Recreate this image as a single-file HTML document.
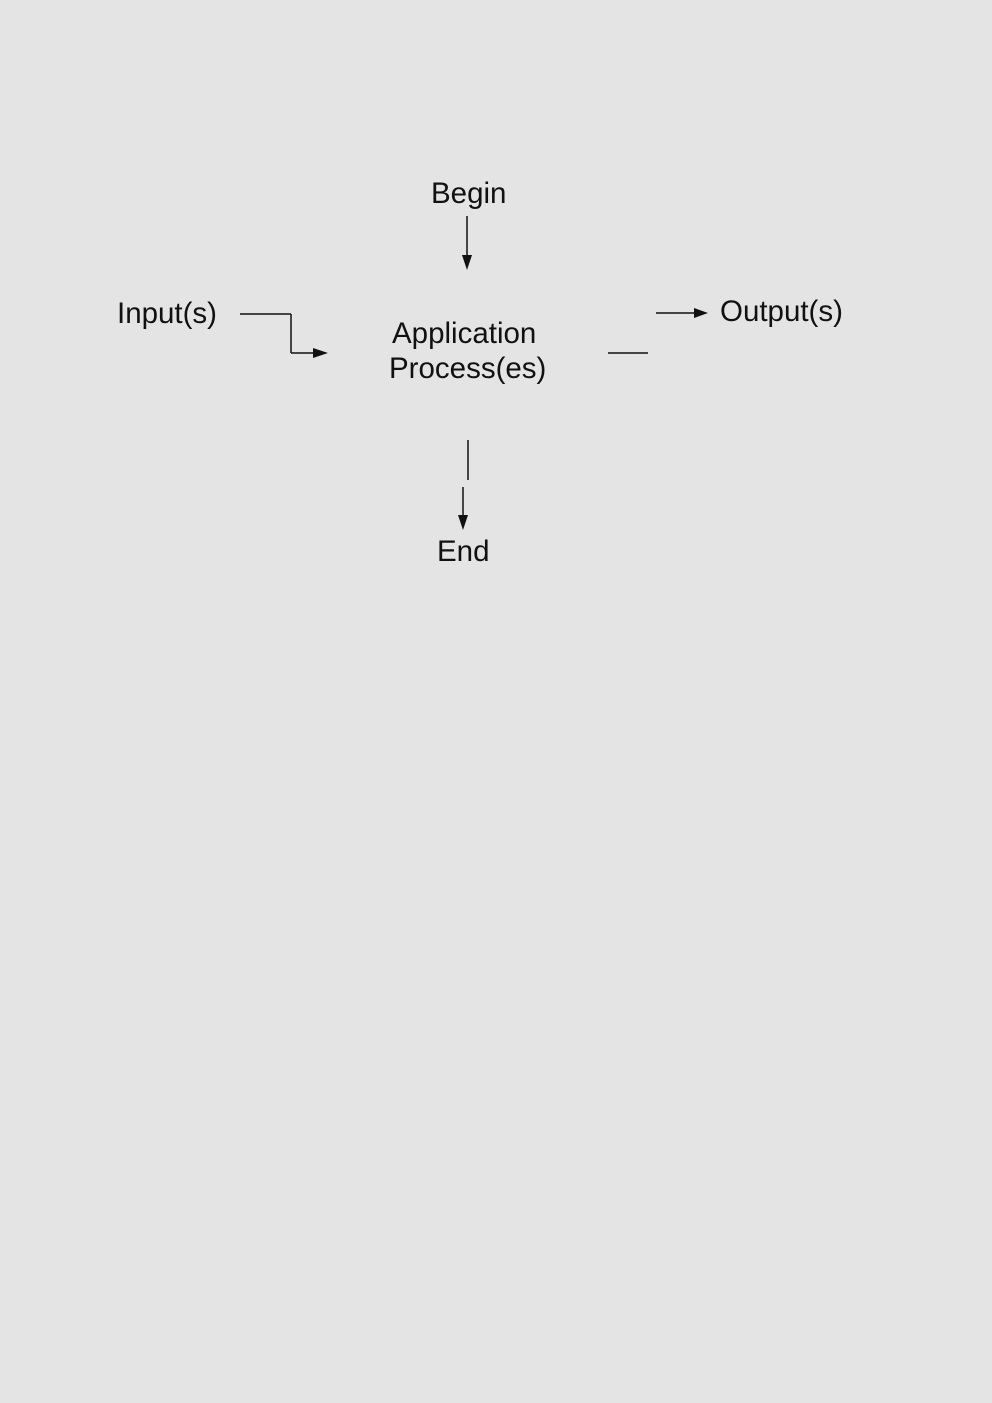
<!DOCTYPE html>
<html><head><meta charset="utf-8"><style>
html,body{margin:0;padding:0;background:#e4e4e4;}
body{width:992px;height:1403px;position:relative;overflow:hidden;}
svg{position:absolute;left:0;top:0;}
text{font-family:"Liberation Sans",Arial,sans-serif;font-size:29.5px;fill:#111;}
</style></head><body>
<svg width="992" height="1403" viewBox="0 0 992 1403">
<text x="431" y="203">Begin</text>
<text x="117" y="323">Input(s)</text>
<text x="392" y="343">Application</text>
<text x="389" y="378">Process(es)</text>
<text x="720" y="321">Output(s)</text>
<text x="437" y="561">End</text>
<g stroke="#111" stroke-width="1.5" fill="none">
<line x1="467" y1="216" x2="467" y2="262"/>
<line x1="240" y1="314" x2="291" y2="314"/>
<line x1="291" y1="314" x2="291" y2="353"/>
<line x1="291" y1="353" x2="318" y2="353"/>
<line x1="608" y1="353" x2="648" y2="353"/>
<line x1="656" y1="313" x2="700" y2="313"/>
<line x1="468" y1="440" x2="468" y2="480"/>
<line x1="463" y1="487" x2="463" y2="522"/>
</g>
<g fill="#111">
<polygon points="462,255 472,255 467,270"/>
<polygon points="313,348 313,358 328,353"/>
<polygon points="694,308 694,318 708,313"/>
<polygon points="458,515 468,515 463,530"/>
</g>
</svg>
</body></html>
